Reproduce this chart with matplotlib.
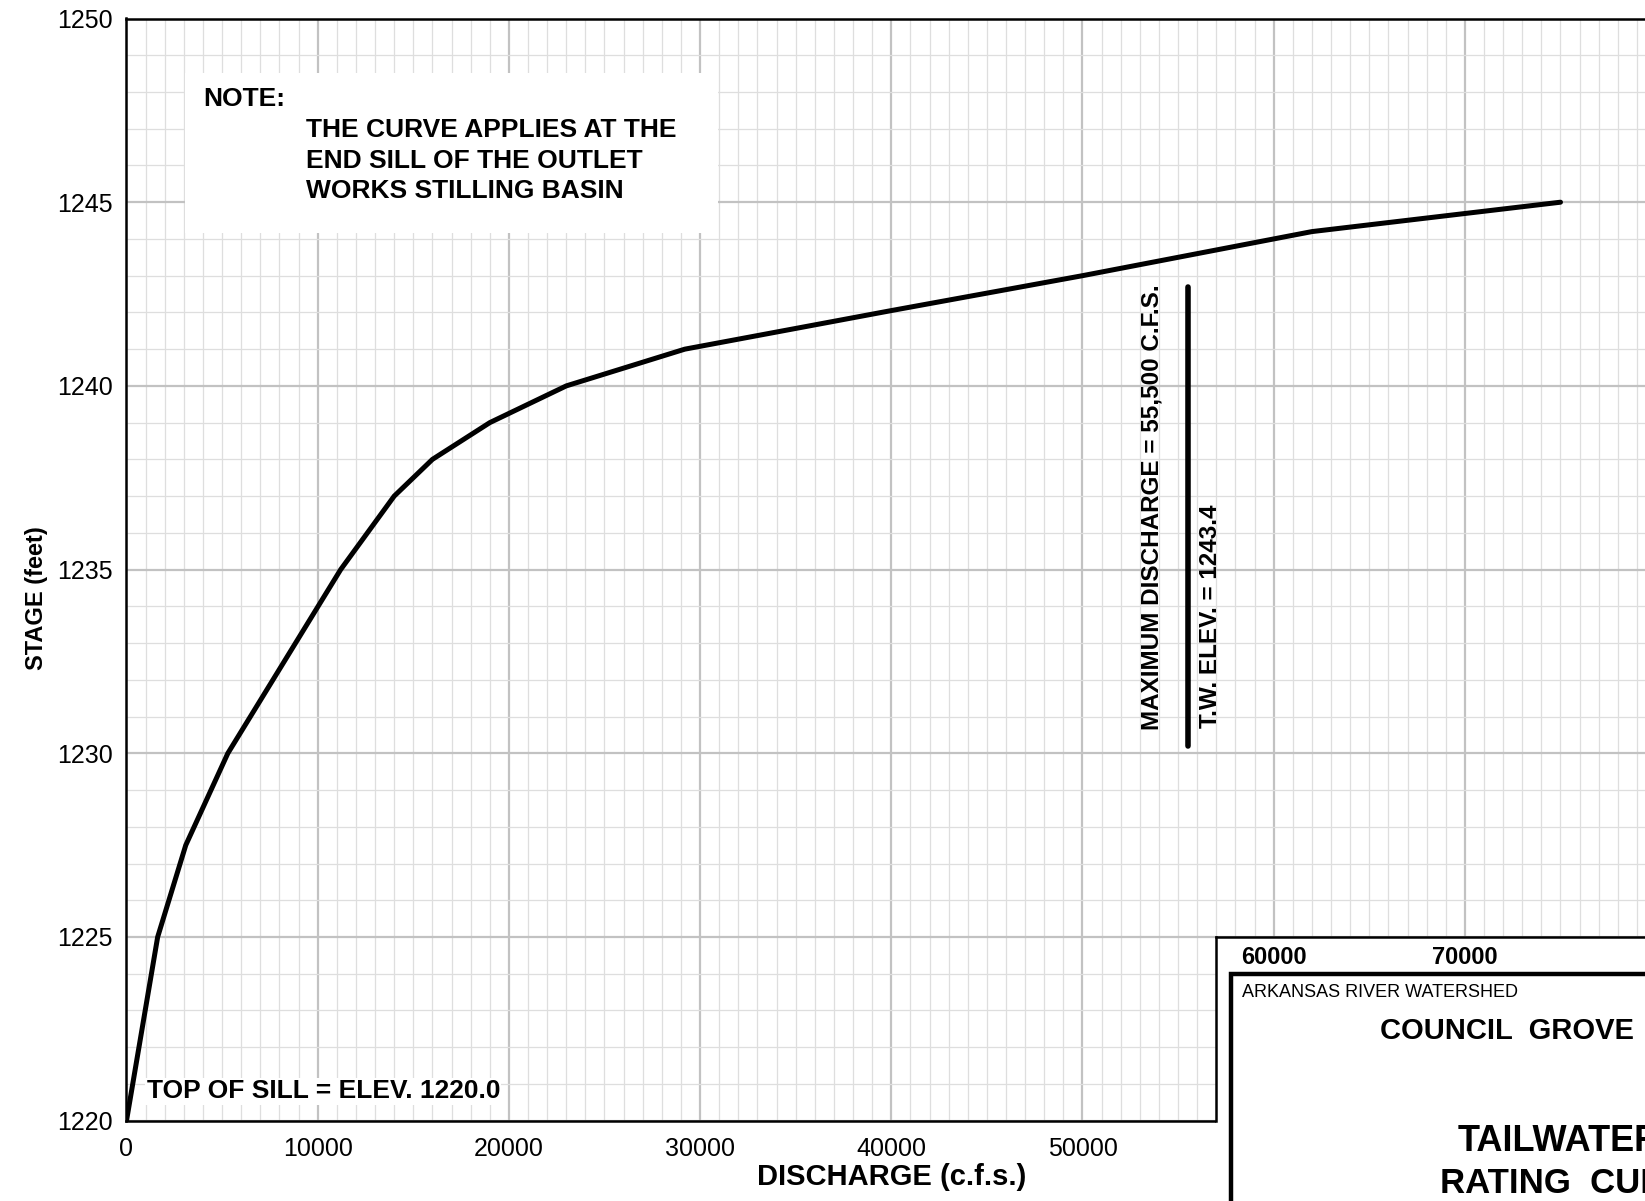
import matplotlib
matplotlib.use('Agg')
import matplotlib.pyplot as plt
import matplotlib.transforms as mtransforms
from matplotlib.patches import Rectangle
from matplotlib.ticker import MultipleLocator

plt.rcParams['font.family'] = ['Liberation Sans', 'DejaVu Sans']

# Tailwater rating curve
discharge = [0, 1630, 3100, 5300, 11200, 14000, 16000, 19000, 23000, 29200, 40000, 50000, 62000, 75000]
stage = [1220, 1225, 1227.5, 1230, 1235, 1237, 1238, 1239, 1240, 1241, 1242.05, 1243, 1244.2, 1245]

# maximum discharge marker
max_discharge = 55500
max_line_stage = [1230.2, 1242.7]

block_ticks = [60000, 70000]
note_lines = ["THE CURVE APPLIES AT THE", "END SILL OF THE OUTLET", "WORKS STILLING BASIN"]

W, H = 1645, 1201
fig = plt.figure(figsize=(W / 100, H / 100), dpi=100)

# main axes, runs past the right edge of the sheet
ax = fig.add_axes([126.5 / W, 1 - 1120.7 / H, 1529.6 / W, 1102.2 / H])
ax.set_xlim(0, 80000)
ax.set_ylim(1220, 1250)
ax.xaxis.set_major_locator(MultipleLocator(10000))
ax.xaxis.set_minor_locator(MultipleLocator(1000))
ax.yaxis.set_major_locator(MultipleLocator(5))
ax.yaxis.set_minor_locator(MultipleLocator(1))
ax.grid(which='major', color='#c2c2c2', lw=1.6)
ax.grid(which='minor', color='#dedede', lw=0.9)
ax.set_axisbelow(True)
ax.tick_params(which='both', length=0)
ax.tick_params(axis='x', pad=12, labelsize=18)
ax.tick_params(axis='y', pad=10, labelsize=18)
for s in ['left', 'bottom', 'top']:
    ax.spines[s].set_linewidth(1.8)
    ax.spines[s].set_color('black')
ax.spines['right'].set_visible(False)

ax.plot(discharge, stage, color='black', lw=3.6, solid_capstyle='round',
        solid_joinstyle='round', zorder=4)
ax.plot([max_discharge, max_discharge], max_line_stage, color='black', lw=4,
        solid_capstyle='round', zorder=4)

# note box
ax.add_patch(Rectangle((0.0382, 0.8054), 0.3485, 0.1452, transform=ax.transAxes,
                       facecolor='white', edgecolor='none', zorder=2))
ax.text(0.050, 0.927, "NOTE:", transform=ax.transAxes, fontsize=19,
        fontweight='bold', va='center', zorder=3)
for i, line in enumerate(note_lines):
    ax.text(0.1174, 0.8988 - i * 0.0278, line, transform=ax.transAxes, fontsize=19,
            fontweight='bold', va='center', zorder=3)

ax.text(1050, 1220.8, "TOP OF SILL = ELEV. 1220.0", fontsize=19, fontweight='bold',
        va='center', zorder=3,
        bbox=dict(facecolor='white', edgecolor='none', pad=1))

ax.text(53640, 1230.63, "MAXIMUM DISCHARGE = 55,500 C.F.S.", rotation=90,
        ha='center', va='bottom', fontsize=17.5, fontweight='bold', zorder=3)
ax.text(56670, 1230.7, "T.W. ELEV. = 1243.4", rotation=90,
        ha='center', va='bottom', fontsize=17.5, fontweight='bold', zorder=3)

ax.set_xlabel("DISCHARGE (c.f.s.)", fontsize=21, fontweight='bold')
ax.xaxis.set_label_coords(0.5, -0.051)
ax.xaxis.label.set_va('center')
ax.set_ylabel("STAGE (feet)", fontsize=17, fontweight='bold')
ax.yaxis.set_label_coords(-0.0587, 0.474)
ax.yaxis.label.set_va('center')

# title block in the lower right corner
tb_w = 0.27
tb = fig.add_axes([1216 / W, 0, tb_w, 264 / H])
tb.set_zorder(5)
tb.set_facecolor('white')
tb.set_xlim(0, 1)
tb.set_ylim(0, 1)
tb.set_xticks([])
tb.set_yticks([])
tb.spines['right'].set_visible(False)
tb.spines['bottom'].set_visible(False)
for s in ['left', 'top']:
    tb.spines[s].set_linewidth(1.8)
    tb.spines[s].set_color('black')
tb.spines['left'].set_bounds(80.3 / 264, 1)

trans = mtransforms.blended_transform_factory(ax.transData, tb.transAxes)
for q in block_ticks:
    tb.text(q, 0.924, f"{q}", transform=trans, ha='center', va='center',
            fontsize=17, fontweight='bold')

tbw_px = tb_w * W
tb.add_patch(Rectangle((15 / tbw_px, -0.5), 2, 0.86 + 0.5, transform=tb.transAxes,
                       fill=False, lw=3.2, edgecolor='black', clip_on=False))

tb.text(26 / tbw_px, 0.788, "ARKANSAS RIVER WATERSHED", transform=tb.transAxes,
        fontsize=13, va='center')
tb.text(164 / tbw_px, 0.644, "COUNCIL  GROVE", transform=tb.transAxes,
        fontsize=21, fontweight='bold', va='center')
tb.text(242 / tbw_px, 0.226, "TAILWATER", transform=tb.transAxes,
        fontsize=26, fontweight='bold', va='center')
tb.text(224 / tbw_px, 0.066, "RATING  CURVE", transform=tb.transAxes,
        fontsize=25, fontweight='bold', va='center')

fig.savefig('out.png', dpi=100)
